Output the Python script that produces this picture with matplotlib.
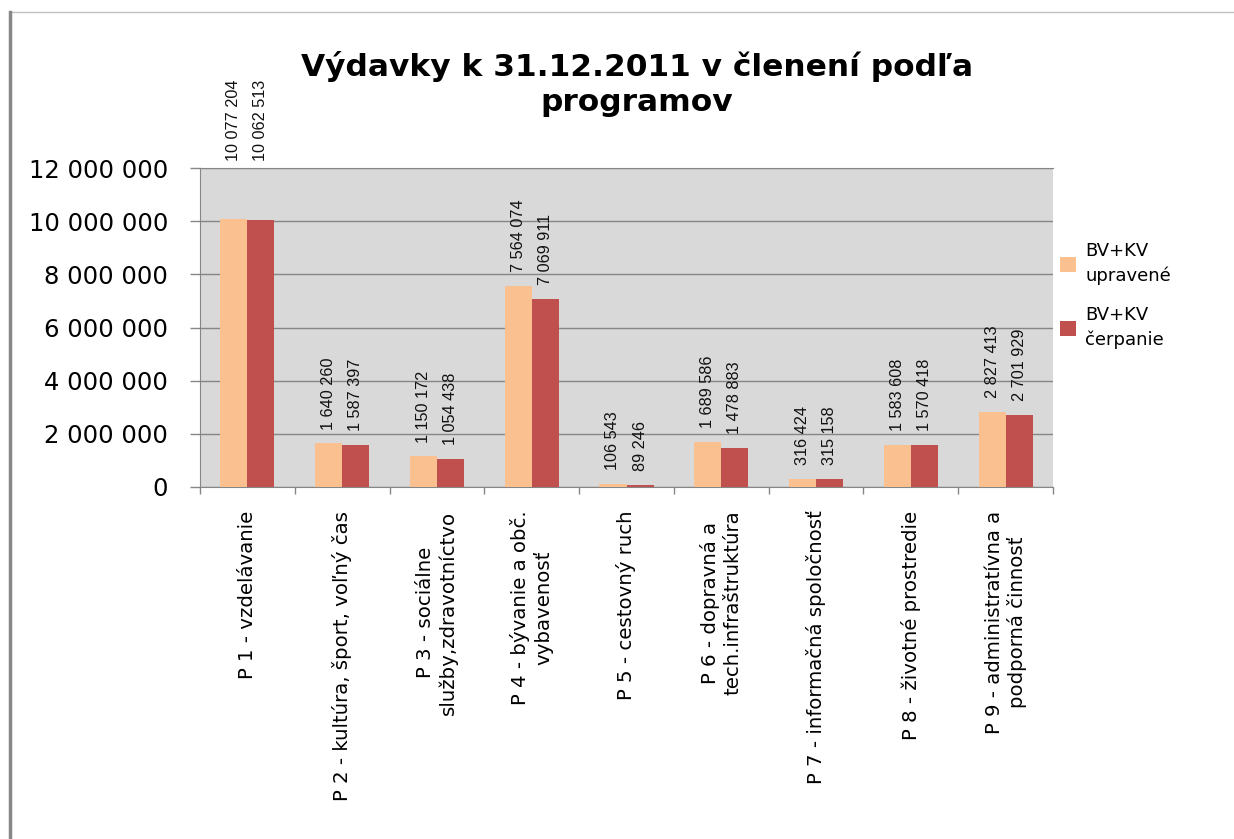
import numpy as np
import matplotlib.pyplot as plt
from matplotlib.lines import Line2D

# --- data ---
kategorie = [
    "P 1 - vzdelávanie",
    "P 2 - kultúra, šport, voľný čas",
    "P 3 - sociálne\nslužby,zdravotníctvo",
    "P 4 - bývanie a obč.\nvybavenosť",
    "P 5 - cestovný ruch",
    "P 6 - dopravná a\ntech.infraštruktúra",
    "P 7 - informačná spoločnosť",
    "P 8 - životné prostredie",
    "P 9 - administratívna a\npodporná činnosť",
]
upravene = [10077204, 1640260, 1150172, 7564074, 106543, 1689586, 316424, 1583608, 2827413]
cerpanie = [10062513, 1587397, 1054438, 7069911, 89246, 1478883, 315158, 1570418, 2701929]
nazvy_serii = ["BV+KV\nupravené", "BV+KV\nčerpanie"]
y_ticky = [0, 2000000, 4000000, 6000000, 8000000, 10000000, 12000000]

farby = ["#FAC090", "#C0504D"]
sediva = "#868686"


def formatuj(v):
    return f"{v:,}".replace(",", " ")


fig = plt.figure(figsize=(12.34, 8.39), dpi=100)
ax = fig.add_axes([200 / 1234, 1 - 487 / 839, 853 / 1234, 319 / 839])
ax.set_facecolor("#D9D9D9")

x = np.arange(len(kategorie))
w = 0.285
ymax = y_ticky[-1]
ax.set_xlim(-0.5, len(kategorie) - 0.5)
ax.set_ylim(0, ymax)

for i, (hodnoty, farba, nazov) in enumerate(zip([upravene, cerpanie], farby, nazvy_serii)):
    pos = x + (i - 0.5) * w
    ax.bar(pos, hodnoty, width=w, color=farba, label=nazov, zorder=3)
    for px, v in zip(pos, hodnoty):
        # Excel pushes labels of the tallest bars above the plot area
        if v > 0.8 * ymax:
            yy, off = ymax, 5
        else:
            yy, off = v, 10
        ax.annotate(formatuj(v), (px, yy), xytext=(0, off), textcoords="offset points",
                    rotation=90, ha="center", va="bottom", fontsize=11.7,
                    family=["Liberation Sans", "DejaVu Sans"],
                    color="#111111", clip_on=False, zorder=4)

# grid and axes styling
ax.set_yticks(y_ticky)
ax.set_yticklabels([formatuj(t) for t in y_ticky], fontsize=17.5, family="DejaVu Sans")
ax.yaxis.grid(True, color=sediva, linewidth=1, zorder=0)
ax.set_axisbelow(True)
ax.tick_params(axis="y", length=7, width=1, color=sediva, pad=16)

ax.set_xticks(x)
ax.set_xticklabels(kategorie, rotation=90, fontsize=14.2, family="DejaVu Sans",
                   ha="center", va="top", multialignment="center")
ax.set_xticks(np.arange(len(kategorie) + 1) - 0.5, minor=True)
ax.tick_params(axis="x", which="major", length=0, pad=17)
ax.tick_params(axis="x", which="minor", length=5, width=1, color=sediva)

for s in ["left", "bottom"]:
    ax.spines[s].set_color(sediva)
ax.spines["right"].set_visible(False)
ax.spines["top"].set_color(sediva)

leg = ax.legend(loc="center left", bbox_to_anchor=(1.0, 0.6), frameon=False, fontsize=13,
                handlelength=0.9, handleheight=0.9, handletextpad=0.5, labelspacing=1.15,
                borderaxespad=0.0)
for t in leg.get_texts():
    t.set_linespacing(1.45)

# title
fig.text(637 / 1234, 1 - 84 / 839, "Výdavky k 31.12.2011 v členení podľa\nprogramov",
         ha="center", va="center", fontsize=22.5, fontweight="bold", linespacing=1.25)

# chart frame edges visible in the screenshot
fig.add_artist(Line2D([10 / 1234, 1], [1 - 12 / 839] * 2, transform=fig.transFigure,
                      color="#C0C0C0", linewidth=1))
fig.add_artist(Line2D([10.5 / 1234] * 2, [0, 1 - 12 / 839], transform=fig.transFigure,
                      color="#888888", linewidth=2.5))

fig.savefig("out.png", dpi=100)
